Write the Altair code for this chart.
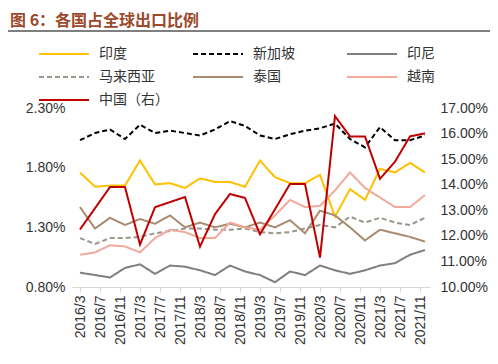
import altair as alt
import pandas as pd

periods = ["2016/3", "2016/6", "2016/9", "2016/12", "2017/3", "2017/6", "2017/9", "2017/12",
           "2018/3", "2018/6", "2018/9", "2018/12", "2019/3", "2019/6", "2019/9", "2019/12",
           "2020/3", "2020/6", "2020/9", "2020/12", "2021/3", "2021/6", "2021/9", "2021/12"]

tick_labels = ["2016/3", "2016/7", "2016/11", "2017/3", "2017/7", "2017/11", "2018/3", "2018/7",
               "2018/11", "2019/3", "2019/7", "2019/11", "2020/3", "2020/7", "2020/11", "2021/3",
               "2021/7", "2021/11"]

india = [1.76, 1.64, 1.65, 1.65, 1.86, 1.66, 1.67, 1.63, 1.71, 1.68, 1.68, 1.64,
         1.86, 1.72, 1.67, 1.67, 1.74, 1.39, 1.62, 1.53, 1.79, 1.76, 1.84, 1.76]
singapore = [2.03, 2.09, 2.12, 2.04, 2.16, 2.09, 2.11, 2.09, 2.07, 2.12, 2.19, 2.15,
             2.07, 2.04, 2.08, 2.11, 2.13, 2.17, 2.04, 1.97, 2.14, 2.03, 2.03, 2.07]
indonesia = [0.92, 0.90, 0.88, 0.96, 0.99, 0.91, 0.98, 0.97, 0.94, 0.90, 0.98, 0.93,
             0.90, 0.84, 0.93, 0.90, 0.98, 0.94, 0.91, 0.94, 0.98, 1.00, 1.07, 1.11]
malaysia = [1.21, 1.16, 1.21, 1.21, 1.22, 1.25, 1.27, 1.29, 1.29, 1.28, 1.28, 1.29,
            1.26, 1.25, 1.26, 1.29, 1.32, 1.30, 1.39, 1.34, 1.38, 1.34, 1.32, 1.38]
thailand = [1.47, 1.29, 1.38, 1.32, 1.37, 1.33, 1.40, 1.30, 1.34, 1.30, 1.33, 1.30,
            1.34, 1.30, 1.36, 1.25, 1.44, 1.40, 1.30, 1.19, 1.28, 1.25, 1.22, 1.18]
vietnam = [1.07, 1.09, 1.15, 1.14, 1.09, 1.21, 1.28, 1.26, 1.21, 1.21, 1.34, 1.30,
           1.28, 1.40, 1.53, 1.47, 1.48, 1.61, 1.76, 1.63, 1.55, 1.47, 1.47, 1.57]
china = [12.25, 13.08, 13.91, 13.91, 11.66, 13.12, 13.32, 13.52, 11.58, 12.85, 13.64, 13.48,
         12.06, 13.04, 14.03, 14.03, 11.15, 16.68, 15.89, 15.89, 14.23, 14.90, 15.89, 16.01]

series_names = ["印度", "新加坡", "印尼", "马来西亚", "泰国", "越南", "中国（右）"]
series_colors = ["#FFC000", "#000000", "#7F7F7F", "#9C968A", "#A88B70", "#F2A99A", "#C00000"]
series_dash = [[1, 0], [5, 3], [1, 0], [5, 3], [1, 0], [1, 0], [1, 0]]
series_width = [2, 2, 2, 2, 2, 2, 3]

title_text = "图 6：各国占全球出口比例"


def month_index(p):
    y, m = p.split("/")
    return (int(y) - 2016) * 12 + int(m) - 3


left_series = {"印度": india, "新加坡": singapore, "印尼": indonesia,
               "马来西亚": malaysia, "泰国": thailand, "越南": vietnam}
rows = []
for name, vals in left_series.items():
    for p, v in zip(periods, vals):
        rows.append({"m": month_index(p), "series": name, "value": v})
df_left = pd.DataFrame(rows)
df_right = pd.DataFrame({"m": [month_index(p) for p in periods],
                         "series": "中国（右）", "value": china})

label_arr = "[" + ",".join("'" + t + "'" for t in tick_labels) + "]"
x_enc = alt.X("m:Q", scale=alt.Scale(domain=[-1.6, 70], nice=False, zero=False),
              axis=alt.Axis(values=[month_index(t) for t in tick_labels],
                            labelExpr=label_arr + "[round(datum.value/4)]",
                            labelAngle=270, title=None, grid=False,
                            domainColor="#D9D9D9", tickColor="#D9D9D9", tickSize=5,
                            labelFontSize=14, labelFont="Liberation Sans",
                            labelColor="#333333", labelPadding=3))

color_enc = alt.Color("series:N", scale=alt.Scale(domain=series_names, range=series_colors),
                      legend=alt.Legend(title=None, orient="none", legendX=-15, legendY=-61,
                                        direction="horizontal",
                                        columns=3, gridAlign="all", columnPadding=20,
                                        rowPadding=9, symbolType="M-5,0H5", symbolSize=100,
                                        labelFontSize=14, labelFont="Noto Sans CJK SC",
                                        labelColor="#333333", labelOffset=28))
dash_enc = alt.StrokeDash("series:N", scale=alt.Scale(domain=series_names, range=series_dash),
                          legend=None)
width_enc = alt.StrokeWidth("series:N", scale=alt.Scale(domain=series_names, range=series_width),
                            legend=None)

left = alt.Chart(df_left).mark_line().encode(
    x=x_enc,
    y=alt.Y("value:Q", scale=alt.Scale(domain=[0.8, 2.3], nice=False, zero=False),
            axis=alt.Axis(values=[0.8, 1.3, 1.8, 2.3], labelExpr="format(datum.value, '.2f') + '%'",
                          title=None, grid=False, domain=False, ticks=False,
                          labelFontSize=14, labelFont="Liberation Sans", labelColor="#333333",
                          labelPadding=7)),
    color=color_enc, strokeDash=dash_enc, strokeWidth=width_enc,
)

right = alt.Chart(df_right).mark_line().encode(
    x=x_enc,
    y=alt.Y("value:Q", scale=alt.Scale(domain=[10, 17], nice=False, zero=False),
            axis=alt.Axis(orient="right", values=[10, 11, 12, 13, 14, 15, 16, 17],
                          labelExpr="format(datum.value, '.2f') + '%'",
                          title=None, grid=False, domain=False, ticks=False,
                          labelFontSize=14, labelFont="Liberation Sans", labelColor="#333333",
                          labelPadding=10)),
    color=color_enc, strokeDash=dash_enc, strokeWidth=width_enc,
)

deco = pd.DataFrame({"t": [title_text]})
sep = alt.Chart(deco).mark_rule(color="#7F7F7F", strokeWidth=2).encode(
    x=alt.value(-64), x2=alt.value(418), y=alt.value(-77)
)
title = alt.Chart(deco).mark_text(align="left", baseline="middle", fontSize=16,
                                  fontWeight="bold", color="#9C4A2B",
                                  font="Noto Sans CJK SC").encode(
    x=alt.value(-62), y=alt.value(-87), text="t:N"
)

chart = alt.layer(left, right, sep, title).resolve_scale(y="independent").properties(
    width=358, height=179,
    autosize=alt.AutoSizeParams(type="none"),
    padding={"left": 64, "top": 100, "right": 60, "bottom": 60},
).configure_view(stroke=None)

chart.save("out.html", embed_options={"renderer": "svg", "actions": False})
